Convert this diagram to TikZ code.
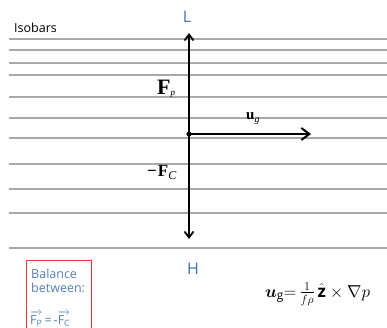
\documentclass[tikz,border=0pt]{standalone}
\usepackage{fontspec}
\usepackage{amsmath,amssymb}
\setmainfont{Open Sans}
\newfontfamily\tnr{Liberation Serif}
\usetikzlibrary{arrows.meta}
\definecolor{isogray}{HTML}{A8A8A8}
\definecolor{lhblue}{HTML}{3F73B8}
\definecolor{balblue}{HTML}{5680B5}
\definecolor{boxred}{HTML}{E8383C}
\begin{document}
\begin{tikzpicture}[x=1pt,y=-1pt,
  isobar/.style={draw=isogray,line width=1.2pt},
  vecarrow/.style={draw=black,line width=1.8pt,-{Straight Barb[length=6pt,width=9pt,line width=1.8pt]}},
  bigarrow/.style={draw=black,line width=2pt,-{Straight Barb[length=8pt,width=12pt,line width=2pt]}},
  lhlabel/.style={text=lhblue,font=\fontsize{16}{16}\selectfont,inner sep=0pt},
  lab/.style={inner sep=0pt,anchor=base west},
  baltext/.style={inner sep=0pt,anchor=base west,text=balblue,font=\fontsize{12.5}{14}\selectfont}
]
\useasboundingbox (0,0) rectangle (387,328);
\fill[white] (0,0) rectangle (387,328);
% isobars
\foreach \yy in {39,50,63,75,97,118,138,164,189,213,248}
  \draw[isobar] (9,\yy) -- (387,\yy);
\node[anchor=west,inner sep=0pt,font=\fontsize{12.5}{12.5}\selectfont] (iso) at (14,28) {Isobars};
% axes
\coordinate (o) at (189,134);
\coordinate (top) at (189,33);
\coordinate (bot) at (189,239);
\coordinate (rt) at (311,134);
\draw[vecarrow] (o) -- (top);
\draw[vecarrow] (o) -- (bot);
\draw[bigarrow] (o) -- (rt);
\fill (o) circle (2.6pt);
\node[lhlabel] (L) at (187,17) {L};
\node[lhlabel] (H) at (193,269) {H};
% labels
\node[lab] (fp) at (157,95) {\tnr\fontsize{22}{22}\selectfont\bfseries F\raisebox{-1pt}{\fontsize{9}{9}\selectfont\mdseries\itshape p}};
\node[lab] (ug) at (246,120) {\tnr\fontsize{15}{15}\selectfont\bfseries u\raisebox{-3pt}{\fontsize{10}{10}\selectfont\mdseries\itshape g}};
\node[lab] (fc) at (147,177) {\tnr\fontsize{17}{17}\selectfont\bfseries \char"2212\kern1pt F\raisebox{-3pt}{\fontsize{12}{12}\selectfont\mdseries\itshape C}};
% balance box
\draw[boxred,line width=1pt] (26,340) -- (26,260) -- (91,260) -- (91,340);
\node[baltext] (bal1) at (31,278) {Balance};
\node[baltext] (bal2) at (31,292) {between:};
\node[baltext] (bal3) at (30,324) {$\overrightarrow{\text{F}_{\text{P}}}$\,=\,-$\overrightarrow{\text{F}_{\text{C}}}$};
% equation
\node[inner sep=0pt,anchor=west,font=\fontsize{17}{17}\selectfont] (eq) at (265,294)
  {$\boldsymbol{u}_{\mathrm{g}}{=}\,\frac{1}{f\rho}\,\hat{\mathbf{z}}\times\nabla p$};
\end{tikzpicture}
\end{document}
